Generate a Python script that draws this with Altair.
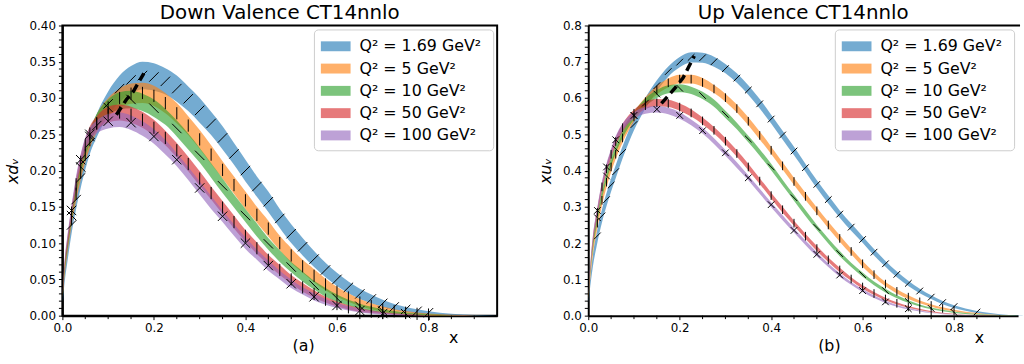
import altair as alt
import pandas as pd

FONT = "DejaVu Sans"

# x grid shared by all curves
X = [0.001, 0.003, 0.006, 0.01, 0.02, 0.03, 0.04, 0.05, 0.06, 0.075,
     0.1, 0.125, 0.15, 0.175, 0.2, 0.225, 0.25, 0.275, 0.3, 0.325, 0.35, 0.375,
     0.4, 0.425, 0.45, 0.475, 0.5, 0.525, 0.55, 0.575, 0.6, 0.625, 0.65, 0.675,
     0.7, 0.725, 0.75, 0.775, 0.8, 0.85, 0.9, 0.95]

Q2_LABELS = ["Q² =  1.69 GeV²", "Q² =  5 GeV²", "Q² =  10 GeV²", "Q² =  50 GeV²", "Q² =  100 GeV²"]
COLORS = ["#1f77b4", "#ff7f0e", "#2ca02c", "#d62728", "#9467bd"]
HATCH = ["M-1,1L1,-1", "M0,-1.3L0,1.3", "M-1,-1L1,1", "M0,-1.3L0,1.3", "M-1,-1L1,1M-1,1L1,-1"]
HATCH_STEP = [1, 1, 2, 1, 2]

# ---- down valence: central values and half-widths of the bands ----
dv_169 = [0.022, 0.04, 0.06, 0.08, 0.125, 0.16, 0.19, 0.215, 0.238, 0.262,
          0.292, 0.313, 0.325, 0.331, 0.329, 0.323, 0.313, 0.299, 0.283, 0.265, 0.245, 0.223,
          0.2, 0.178, 0.157, 0.134, 0.113, 0.095, 0.078, 0.063, 0.05, 0.039, 0.03, 0.023,
          0.017, 0.012, 0.0085, 0.006, 0.004, 0.0015, 0.0004, 0.0]
dv_169_err = [0.004, 0.006, 0.008, 0.01, 0.012, 0.013, 0.014, 0.014, 0.015, 0.016,
              0.017, 0.018, 0.019, 0.019, 0.019, 0.018, 0.018, 0.017, 0.017, 0.016, 0.016, 0.015,
              0.015, 0.014, 0.014, 0.013, 0.013, 0.012, 0.011, 0.010, 0.009, 0.008, 0.007, 0.006,
              0.005, 0.004, 0.0035, 0.003, 0.0022, 0.0012, 0.0004, 0.0]
dv_5 = [0.028, 0.047, 0.068, 0.088, 0.133, 0.168, 0.197, 0.222, 0.242, 0.265,
        0.287, 0.3, 0.306, 0.307, 0.303, 0.293, 0.279, 0.262, 0.243, 0.222, 0.201, 0.18,
        0.159, 0.139, 0.12, 0.1, 0.083, 0.068, 0.055, 0.043, 0.033, 0.025, 0.018, 0.013,
        0.009, 0.006, 0.004, 0.0025, 0.0015, 0.0005, 0.0001, 0.0]
dv_5_err = [0.003, 0.005, 0.006, 0.007, 0.009, 0.01, 0.01, 0.011, 0.011, 0.012,
            0.013, 0.013, 0.014, 0.014, 0.014, 0.014, 0.014, 0.013, 0.013, 0.013, 0.012, 0.012,
            0.012, 0.011, 0.011, 0.01, 0.01, 0.009, 0.009, 0.008, 0.007, 0.006, 0.005, 0.004,
            0.0035, 0.003, 0.0025, 0.002, 0.0015, 0.0006, 0.0002, 0.0]
dv_10 = [0.03, 0.05, 0.072, 0.092, 0.138, 0.175, 0.205, 0.229, 0.247, 0.268,
         0.287, 0.296, 0.298, 0.294, 0.286, 0.274, 0.258, 0.24, 0.221, 0.2, 0.179, 0.158,
         0.138, 0.118, 0.099, 0.082, 0.067, 0.054, 0.042, 0.032, 0.024, 0.018, 0.013, 0.0092,
         0.0064, 0.0043, 0.0028, 0.0018, 0.0011, 0.0003, 0.0, 0.0]
dv_10_err = [0.003, 0.004, 0.005, 0.006, 0.007, 0.008, 0.009, 0.009, 0.01, 0.01,
             0.011, 0.012, 0.012, 0.012, 0.012, 0.011, 0.011, 0.011, 0.01, 0.01, 0.01, 0.009,
             0.009, 0.009, 0.008, 0.008, 0.007, 0.007, 0.006, 0.006, 0.005, 0.004, 0.0035, 0.003,
             0.0025, 0.002, 0.0015, 0.001, 0.0008, 0.0003, 0.0, 0.0]
dv_50 = [0.032, 0.054, 0.077, 0.097, 0.142, 0.181, 0.212, 0.235, 0.251, 0.265,
         0.277, 0.28, 0.277, 0.27, 0.259, 0.245, 0.228, 0.209, 0.189, 0.169, 0.149, 0.129,
         0.11, 0.093, 0.077, 0.063, 0.05, 0.039, 0.03, 0.022, 0.016, 0.0115, 0.008, 0.0055,
         0.0037, 0.0024, 0.0015, 0.0009, 0.0005, 0.0001, 0.0, 0.0]
dv_50_err = [0.003, 0.004, 0.005, 0.006, 0.007, 0.008, 0.009, 0.009, 0.01, 0.01,
             0.011, 0.011, 0.011, 0.011, 0.011, 0.01, 0.01, 0.01, 0.01, 0.009, 0.009, 0.009,
             0.008, 0.008, 0.007, 0.007, 0.006, 0.006, 0.005, 0.004, 0.0035, 0.003, 0.0025, 0.002,
             0.0015, 0.001, 0.0008, 0.0005, 0.0003, 0.0001, 0.0, 0.0]
dv_100 = [0.034, 0.056, 0.08, 0.1, 0.145, 0.185, 0.215, 0.237, 0.25, 0.26,
          0.268, 0.27, 0.266, 0.258, 0.247, 0.232, 0.215, 0.196, 0.176, 0.156, 0.137, 0.118,
          0.1, 0.084, 0.069, 0.056, 0.044, 0.034, 0.026, 0.019, 0.014, 0.01, 0.007, 0.0046,
          0.003, 0.0019, 0.0012, 0.0007, 0.0004, 0.0001, 0.0, 0.0]
dv_100_err = [0.003, 0.004, 0.005, 0.006, 0.007, 0.008, 0.008, 0.009, 0.009, 0.009,
              0.01, 0.01, 0.01, 0.01, 0.01, 0.01, 0.009, 0.009, 0.009, 0.009, 0.008, 0.008,
              0.008, 0.007, 0.007, 0.006, 0.006, 0.005, 0.005, 0.004, 0.0035, 0.003, 0.0025, 0.002,
              0.0015, 0.001, 0.0008, 0.0005, 0.0003, 0.0001, 0.0, 0.0]

# ---- up valence ----
uv_169 = [0.04, 0.075, 0.11, 0.15, 0.22, 0.275, 0.32, 0.36, 0.397, 0.45,
          0.527, 0.586, 0.634, 0.673, 0.699, 0.712, 0.711, 0.7, 0.681, 0.655, 0.622, 0.584,
          0.542, 0.498, 0.454, 0.408, 0.362, 0.32, 0.28, 0.244, 0.21, 0.175, 0.143, 0.114,
          0.089, 0.068, 0.051, 0.036, 0.025, 0.01, 0.003, 0.0005]
uv_169_err = [0.006, 0.01, 0.013, 0.016, 0.018, 0.018, 0.018, 0.018, 0.018, 0.017,
              0.016, 0.015, 0.015, 0.014, 0.014, 0.014, 0.014, 0.014, 0.013, 0.013, 0.013, 0.013,
              0.012, 0.012, 0.012, 0.011, 0.011, 0.011, 0.01, 0.01, 0.009, 0.009, 0.008, 0.008,
              0.007, 0.006, 0.005, 0.0045, 0.004, 0.0025, 0.001, 0.0003]
uv_5 = [0.05, 0.09, 0.132, 0.178, 0.255, 0.318, 0.368, 0.41, 0.445, 0.49,
        0.548, 0.59, 0.622, 0.642, 0.652, 0.652, 0.643, 0.625, 0.601, 0.571, 0.536, 0.497,
        0.456, 0.413, 0.37, 0.329, 0.289, 0.25, 0.213, 0.177, 0.143, 0.113, 0.087, 0.067,
        0.051, 0.038, 0.028, 0.02, 0.014, 0.006, 0.0015, 0.0002]
uv_5_err = [0.005, 0.008, 0.01, 0.012, 0.014, 0.014, 0.014, 0.014, 0.013, 0.013,
            0.013, 0.012, 0.012, 0.012, 0.012, 0.012, 0.012, 0.011, 0.011, 0.011, 0.011, 0.011,
            0.01, 0.01, 0.01, 0.01, 0.009, 0.009, 0.009, 0.008, 0.008, 0.007, 0.006, 0.006,
            0.005, 0.004, 0.0035, 0.003, 0.0025, 0.0012, 0.0004, 0.0]
uv_10 = [0.055, 0.1, 0.145, 0.192, 0.27, 0.335, 0.385, 0.425, 0.46, 0.502,
         0.552, 0.588, 0.611, 0.624, 0.627, 0.621, 0.607, 0.586, 0.555, 0.523, 0.487, 0.45,
         0.41, 0.367, 0.325, 0.283, 0.243, 0.206, 0.171, 0.14, 0.113, 0.089, 0.069, 0.052,
         0.039, 0.028, 0.02, 0.014, 0.009, 0.0035, 0.0008, 0.0]
uv_10_err = [0.005, 0.007, 0.009, 0.011, 0.012, 0.012, 0.012, 0.012, 0.012, 0.012,
             0.011, 0.011, 0.011, 0.011, 0.011, 0.01, 0.01, 0.01, 0.01, 0.009, 0.009, 0.009,
             0.009, 0.008, 0.008, 0.008, 0.007, 0.007, 0.007, 0.006, 0.006, 0.005, 0.005, 0.004,
             0.0035, 0.003, 0.0025, 0.002, 0.0015, 0.0008, 0.0002, 0.0]
uv_50 = [0.058, 0.106, 0.155, 0.205, 0.285, 0.355, 0.405, 0.445, 0.48, 0.518,
         0.558, 0.579, 0.587, 0.585, 0.575, 0.559, 0.537, 0.511, 0.481, 0.447, 0.41, 0.371,
         0.331, 0.292, 0.255, 0.219, 0.185, 0.154, 0.126, 0.101, 0.079, 0.061, 0.046, 0.034,
         0.024, 0.017, 0.011, 0.007, 0.0045, 0.0015, 0.0003, 0.0]
uv_50_err = [0.004, 0.006, 0.008, 0.01, 0.011, 0.011, 0.011, 0.011, 0.011, 0.011,
             0.01, 0.01, 0.01, 0.01, 0.01, 0.01, 0.009, 0.009, 0.009, 0.009, 0.009, 0.008,
             0.008, 0.008, 0.007, 0.007, 0.007, 0.006, 0.006, 0.005, 0.005, 0.004, 0.0035, 0.003,
             0.0025, 0.002, 0.0015, 0.001, 0.0008, 0.0004, 0.0001, 0.0]
uv_100 = [0.06, 0.11, 0.16, 0.21, 0.29, 0.36, 0.41, 0.45, 0.485, 0.52,
          0.552, 0.566, 0.569, 0.564, 0.552, 0.533, 0.51, 0.481, 0.449, 0.415, 0.38, 0.343,
          0.306, 0.27, 0.235, 0.201, 0.169, 0.139, 0.112, 0.089, 0.069, 0.052, 0.038, 0.027,
          0.019, 0.013, 0.008, 0.005, 0.003, 0.001, 0.0002, 0.0]
uv_100_err = [0.004, 0.006, 0.008, 0.009, 0.01, 0.01, 0.01, 0.01, 0.01, 0.01,
              0.009, 0.009, 0.009, 0.009, 0.009, 0.008, 0.008, 0.008, 0.008, 0.008, 0.007, 0.007,
              0.007, 0.007, 0.006, 0.006, 0.006, 0.005, 0.005, 0.004, 0.004, 0.0035, 0.003, 0.0025,
              0.002, 0.0015, 0.001, 0.0008, 0.0005, 0.0003, 0.0001, 0.0]

# peak positions (dashed line)
dv_peak_x = [0.118, 0.14, 0.155, 0.178]
dv_peak_y = [0.277, 0.298, 0.309, 0.334]
uv_peak_x = [0.16, 0.19, 0.207, 0.232]
uv_peak_y = [0.585, 0.628, 0.655, 0.716]

# axis ticks
X_MAJOR = [0.0, 0.2, 0.4, 0.6, 0.8]
X_MINOR = [0.05, 0.1, 0.15, 0.25, 0.3, 0.35, 0.45, 0.5, 0.55, 0.65, 0.7, 0.75, 0.85, 0.9]
DV_Y_MAJOR = [0.0, 0.05, 0.1, 0.15, 0.2, 0.25, 0.3, 0.35, 0.4]
DV_Y_MINOR = [0.01, 0.02, 0.03, 0.04, 0.06, 0.07, 0.08, 0.09, 0.11, 0.12, 0.13, 0.14,
              0.16, 0.17, 0.18, 0.19, 0.21, 0.22, 0.23, 0.24, 0.26, 0.27, 0.28, 0.29,
              0.31, 0.32, 0.33, 0.34, 0.36, 0.37, 0.38, 0.39]
UV_Y_MAJOR = [0.0, 0.1, 0.2, 0.3, 0.4, 0.5, 0.6, 0.7, 0.8]
UV_Y_MINOR = [0.02, 0.04, 0.06, 0.08, 0.12, 0.14, 0.16, 0.18, 0.22, 0.24, 0.26, 0.28,
              0.32, 0.34, 0.36, 0.38, 0.42, 0.44, 0.46, 0.48, 0.52, 0.54, 0.56, 0.58,
              0.62, 0.64, 0.66, 0.68, 0.72, 0.74, 0.76, 0.78]


def band_frame(centers, errors):
    rows = []
    for label, step, cs, es in zip(Q2_LABELS, HATCH_STEP, centers, errors):
        for i, (x, c, e) in enumerate(zip(X, cs, es)):
            rows.append({"x": x, "c": c, "e": e, "series": label,
                         "hatch": int(i % step == 0)})
    return pd.DataFrame(rows)


H = 293
AXIS_STYLE = dict(domainColor="black", domainWidth=2, tickColor="black", tickWidth=1,
                  tickSize=4, labelPadding=3, labelColor="black", titleColor="black",
                  labelFont=FONT, titleFont=FONT, labelFontSize=12, grid=False,
                  labelFlush=False, labelOverlap=False)


def panel(df, peak_x, peak_y, title, ytitle, ymax, ymajor, yminor, yfmt, xmax, width,
          letter, frame, hatch_size):
    xs = alt.Scale(domain=[0, xmax], nice=False, zero=False)
    ys = alt.Scale(domain=[0, ymax], nice=False, zero=False)
    x_axis = alt.Axis(
        values=X_MAJOR, format=".1f", title=letter, titleX=243, titleY=22,
        titleBaseline="top", titleAlign="center", titleFontSize=16,
        titleFontWeight="normal", **AXIS_STYLE)
    y_axis = alt.Axis(
        values=ymajor, format=yfmt, title=ytitle, titleFontStyle="italic",
        titleFontSize=16, titleFontWeight="normal", titlePadding=9, **AXIS_STYLE)
    base = alt.Chart(df).transform_calculate(lo="datum.c - datum.e", hi="datum.c + datum.e")
    area = base.mark_area(interpolate="monotone", opacity=0.62).encode(
        x=alt.X("x:Q", scale=xs, axis=x_axis),
        y=alt.Y("lo:Q", scale=ys, axis=y_axis),
        y2=alt.Y2("hi:Q"),
        color=alt.Color("series:N", scale=alt.Scale(domain=Q2_LABELS, range=COLORS),
                        legend=alt.Legend(
                            orient="top-right", offset=4, padding=7, title=None,
                            fillColor="white", strokeColor="#cccccc", cornerRadius=4,
                            labelFont=FONT, labelFontSize=16, labelColor="black",
                            symbolType="M-1.5,-0.5L1.5,-0.5L1.5,0.5L-1.5,0.5Z",
                            symbolSize=400, symbolStrokeWidth=0, symbolOffset=5,
                            labelOffset=14, rowPadding=4.5)),
    )
    hatch = base.transform_filter(
        "datum.x >= 0.02 && datum.e >= 0.0015 && datum.hatch == 1"
    ).mark_point(
        filled=False, color="black", strokeWidth=1, opacity=1, size=hatch_size
    ).encode(
        x=alt.X("x:Q", scale=xs, axis=x_axis),
        y=alt.Y("c:Q", scale=ys, axis=y_axis),
        shape=alt.Shape("series:N", scale=alt.Scale(domain=Q2_LABELS, range=HATCH), legend=None),
    )
    peaks = alt.Chart(pd.DataFrame({"px": peak_x, "py": peak_y})).mark_line(
        color="black", strokeWidth=3.5, strokeDash=[9, 5]
    ).encode(
        x=alt.X("px:Q", scale=xs, axis=x_axis),
        y=alt.Y("py:Q", scale=ys, axis=y_axis),
    )
    yminor_ticks = alt.Chart(pd.DataFrame({"v": yminor})).mark_rule(
        color="black", strokeWidth=1
    ).encode(y=alt.Y("v:Q", scale=ys, axis=y_axis), x=alt.value(-3.5), x2=alt.value(0))
    xminor_ticks = alt.Chart(pd.DataFrame({"w": X_MINOR})).mark_rule(
        color="black", strokeWidth=1
    ).encode(x=alt.X("w:Q", scale=xs, axis=x_axis), y=alt.value(H), y2=alt.value(H + 3.5))
    xlabel = alt.Chart(pd.DataFrame({"t": ["x"]})).mark_text(
        font=FONT, fontSize=16, baseline="alphabetic", align="center", color="black"
    ).encode(text="t:N", x=alt.value(395), y=alt.value(321))
    layers = [area, hatch, peaks, yminor_ticks, xminor_ticks, xlabel]
    if frame:
        view = alt.ViewBackground(stroke="black", strokeWidth=2)
    else:
        view = alt.ViewBackground(stroke="transparent")
        top = alt.Chart(pd.DataFrame({"a": [0]})).mark_rule(color="black", strokeWidth=2).encode(
            x=alt.value(0), x2=alt.value(width + 2), y=alt.value(0))
        layers.append(top)
    return alt.layer(*layers).properties(
        width=width, height=H, view=view,
        title=alt.TitleParams(title, fontSize=20, font=FONT, fontWeight="normal",
                              color="black", anchor="middle", offset=-3),
    ).resolve_scale(color="independent", shape="independent")


down_df = band_frame([dv_169, dv_5, dv_10, dv_50, dv_100],
                     [dv_169_err, dv_5_err, dv_10_err, dv_50_err, dv_100_err])
up_df = band_frame([uv_169, uv_5, uv_10, uv_50, uv_100],
                   [uv_169_err, uv_5_err, uv_10_err, uv_50_err, uv_100_err])

left = panel(down_df, dv_peak_x, dv_peak_y, "Down Valence CT14nnlo", "xdᵥ", 0.4,
             DV_Y_MAJOR, DV_Y_MINOR, ".2f", 0.95, 439, "(a)", True, 90)
right = panel(up_df, uv_peak_x, uv_peak_y, "Up Valence CT14nnlo", "xuᵥ", 0.8,
              UV_Y_MAJOR, UV_Y_MINOR, ".1f", 0.94, 434, "(b)", False, 45)

chart = alt.hconcat(left, right, spacing=39).resolve_scale(
    x="independent", y="independent", color="independent", shape="independent"
).resolve_legend(color="independent").properties(
    padding={"left": 3, "top": 0, "right": 0, "bottom": 0}, background="white"
).configure_view(stroke="transparent")

chart.save("out.html", embed_options={"renderer": "svg", "actions": False})
